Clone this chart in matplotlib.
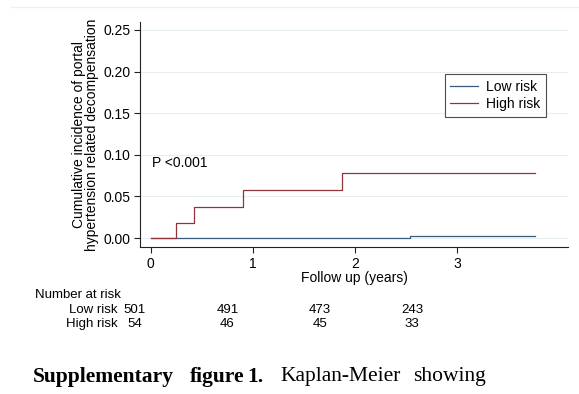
import matplotlib.pyplot as plt
import numpy as np

plt.rcParams["font.family"] = ["Liberation Sans", "DejaVu Sans"]

# Kaplan-Meier cumulative incidence, step points (years, incidence)
low_t = [0.0, 2.54, 3.76]
low_y = [0.0, 0.003, 0.003]
high_t = [0.0, 0.25, 0.42, 0.90, 1.87, 3.76]
high_y = [0.0, 0.018, 0.037, 0.058, 0.078, 0.078]

# number at risk table
risk_times = [0, 1, 2, 3]
risk_low = [501, 491, 473, 243]
risk_high = [54, 46, 45, 33]

navy = "#3a5a7c"
maroon = "#90353b"
grid_col = "#e6eef0"

W, H = 579, 394
fig = plt.figure(figsize=(W / 100, H / 100), dpi=100)


def fx(px):
    return px / W


def fy(py):
    return 1 - py / H


# faint page rule along the top
fig.add_artist(plt.Line2D([fx(11), 1], [fy(7), fy(7)], color="#eef0f0", lw=1))

ax = fig.add_axes([fx(140), fy(247), fx(568) - fx(140), fy(22) - fy(247)])
ax.step(low_t, low_y, where="post", color=navy, lw=0.9, label="Low risk")
ax.step(high_t, high_y, where="post", color=maroon, lw=0.9, label="High risk")

ax.set_xlim(-0.105, 4.083)
ax.set_ylim(-0.0108, 0.2596)
ax.set_xticks([0, 1, 2, 3])
ax.set_yticks(np.arange(0, 0.26, 0.05))
ax.set_yticklabels([f"{v:.2f}" for v in np.arange(0, 0.26, 0.05)])
ax.tick_params(labelsize=10, length=4, width=0.8, color="#222222", pad=3)
ax.grid(axis="y", color=grid_col, lw=0.8)
ax.set_axisbelow(True)
for s in ["top", "right"]:
    ax.spines[s].set_visible(False)
for s in ["left", "bottom"]:
    ax.spines[s].set_linewidth(0.8)
    ax.spines[s].set_color("#222222")

ax.set_xlabel("Follow up (years)", fontsize=10, labelpad=0)
ax.set_ylabel("Cumulative incidence of portal\nhypertension related decompensation",
              fontsize=10, linespacing=0.95, labelpad=3)
ax.text(0.013, 0.090, "P <0.001", fontsize=10, va="center", ha="left")

leg = ax.legend(loc="upper right", bbox_to_anchor=(0.9486, 0.769), borderaxespad=0,
                fontsize=10, frameon=True, fancybox=False, handlelength=2.0,
                borderpad=0.4, labelspacing=0.25, handletextpad=0.6)
leg.get_frame().set_edgecolor("#222222")
leg.get_frame().set_linewidth(0.8)

# risk table on its own axes so the columns use their own time scale
rax = fig.add_axes([fx(35), fy(335), fx(568) - fx(35), fy(285) - fy(335)])
rax.set_xlim(-1.083, 4.69)
rax.set_ylim(335, 285)
rax.axis("off")
rax.text(-1.083, 295, "Number at risk", fontsize=9.5, va="center", ha="left")
rax.text(-0.185, 310, "Low risk", fontsize=9.5, va="center", ha="right")
rax.text(-0.185, 324, "High risk", fontsize=9.5, va="center", ha="right")
for t, lo, hi in zip(risk_times, risk_low, risk_high):
    rax.text(t, 310, str(lo), fontsize=9.5, va="center", ha="center")
    rax.text(t, 324, str(hi), fontsize=9.5, va="center", ha="center")

# justified caption line
cap_words = [("Supplementary", 33, "bold"), ("figure", 190, "bold"), ("1.", 247, "bold"),
             ("Kaplan-Meier", 280, "normal"), ("showing", 413, "normal")]
for word, x, wt in cap_words:
    fig.text(fx(x), fy(377), word, family="Liberation Serif", fontsize=15.5,
             fontweight=wt, va="center", ha="left")

fig.savefig("out.png", dpi=100, facecolor="white")
